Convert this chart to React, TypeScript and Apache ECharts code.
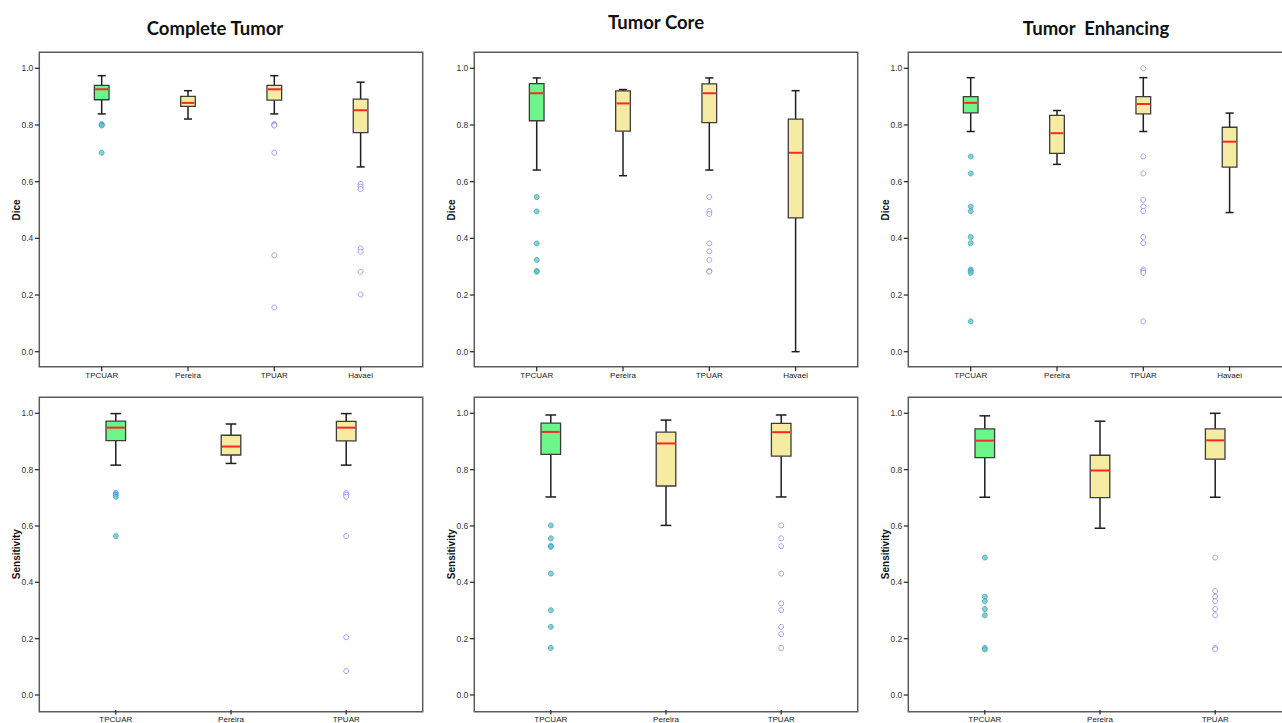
import React, { useEffect, useRef } from "react";
import * as echarts from "echarts";

// ---------- data ----------
const diceCategories = ["TPCUAR", "Pereira", "TPUAR", "Havaei"];
const sensCategories = ["TPCUAR", "Pereira", "TPUAR"];
const yTickValues = [0, 0.2, 0.4, 0.6, 0.8, 1.0];
const yTickLabels = ["0.0", "0.2", "0.4", "0.6", "0.8", "1.0"];

// box stats: [min whisker, Q1, median, Q3, max whisker]
const completeDiceBoxes = [
  [0.839, 0.889, 0.926, 0.94, 0.974],
  [0.821, 0.866, 0.878, 0.901, 0.921],
  [0.839, 0.888, 0.926, 0.94, 0.974],
  [0.652, 0.773, 0.852, 0.891, 0.951],
];
const completeDiceOutTPCUAR = [0.803, 0.8, 0.798, 0.702];
const completeDiceOutTPUAR = [0.803, 0.8, 0.798, 0.702, 0.34, 0.156];
const completeDiceOutHavaei = [0.592, 0.582, 0.574, 0.364, 0.353, 0.282, 0.202];

const coreDiceBoxes = [
  [0.641, 0.815, 0.912, 0.946, 0.966],
  [0.621, 0.778, 0.876, 0.92, 0.925],
  [0.641, 0.808, 0.912, 0.945, 0.966],
  [0.0, 0.472, 0.702, 0.821, 0.921],
];
const coreDiceOutTPCUAR = [0.546, 0.495, 0.382, 0.324, 0.285, 0.282];
const coreDiceOutTPUAR = [0.546, 0.496, 0.486, 0.382, 0.354, 0.324, 0.285, 0.282];

const enhDiceBoxes = [
  [0.777, 0.843, 0.878, 0.9, 0.967],
  [0.661, 0.7, 0.771, 0.834, 0.851],
  [0.777, 0.839, 0.874, 0.9, 0.967],
  [0.491, 0.651, 0.741, 0.792, 0.842],
];
const enhDiceOutTPCUAR = [0.689, 0.629, 0.512, 0.496, 0.405, 0.383, 0.29, 0.284, 0.278, 0.107];
const enhDiceOutTPUAR = [1.0, 0.689, 0.629, 0.536, 0.512, 0.496, 0.405, 0.383, 0.29, 0.284, 0.278, 0.107];

const completeSensBoxes = [
  [0.816, 0.903, 0.949, 0.972, 0.999],
  [0.822, 0.852, 0.882, 0.922, 0.962],
  [0.816, 0.902, 0.949, 0.971, 0.999],
];
const completeSensOutTPCUAR = [0.717, 0.711, 0.704, 0.564];
const completeSensOutTPUAR = [0.717, 0.711, 0.704, 0.564, 0.205, 0.085];

const coreSensBoxes = [
  [0.703, 0.854, 0.934, 0.965, 0.994],
  [0.602, 0.742, 0.893, 0.933, 0.976],
  [0.703, 0.848, 0.933, 0.964, 0.994],
];
const coreSensOutTPCUAR = [0.602, 0.556, 0.529, 0.526, 0.431, 0.301, 0.242, 0.167];
const coreSensOutTPUAR = [0.602, 0.556, 0.528, 0.431, 0.325, 0.301, 0.242, 0.216, 0.167];

const enhSensBoxes = [
  [0.702, 0.843, 0.903, 0.945, 0.991],
  [0.592, 0.701, 0.797, 0.851, 0.972],
  [0.702, 0.837, 0.904, 0.945, 1.0],
];
const enhSensOutTPCUAR = [0.488, 0.349, 0.333, 0.305, 0.283, 0.167, 0.162];
const enhSensOutTPUAR = [0.488, 0.369, 0.349, 0.333, 0.305, 0.283, 0.167, 0.162];

const titles = ["Complete Tumor", "Tumor Core", "Tumor  Enhancing"];

// ---------- layout ----------
const PANEL_LEFTS = [39.3, 474.3, 908.3];
const PANEL_W = 383.4;
const GRID_TOPS = [68.3, 413.3];
const GRID_H = 283.4;
const FRAME_ABOVE = 16;
const FRAME_BELOW = 15;
const ROW_SPACING = [86.3, 115.2];
const ROW_MARGIN = [62.4, 76.5];
const TITLE_POS = [
  [215, 28],
  [656, 22],
  [1096, 28],
];
const TICK_LEN = 4.5;

const GREEN = "#6ef58a";
const YELLOW = "#f6eba2";
const FRAME_COLOR = "#5c5c5c";
const TICK_COLOR = "#333333";

type Panel = {
  row: number;
  col: number;
  cats: string[];
  name: string;
  boxes: number[][];
  filled: number[];
  open: [number, number[]][];
};

const panels: Panel[] = [
  { row: 0, col: 0, cats: diceCategories, name: "Dice", boxes: completeDiceBoxes, filled: completeDiceOutTPCUAR, open: [[2, completeDiceOutTPUAR], [3, completeDiceOutHavaei]] },
  { row: 0, col: 1, cats: diceCategories, name: "Dice", boxes: coreDiceBoxes, filled: coreDiceOutTPCUAR, open: [[2, coreDiceOutTPUAR]] },
  { row: 0, col: 2, cats: diceCategories, name: "Dice", boxes: enhDiceBoxes, filled: enhDiceOutTPCUAR, open: [[2, enhDiceOutTPUAR]] },
  { row: 1, col: 0, cats: sensCategories, name: "Sensitivity", boxes: completeSensBoxes, filled: completeSensOutTPCUAR, open: [[2, completeSensOutTPUAR]] },
  { row: 1, col: 1, cats: sensCategories, name: "Sensitivity", boxes: coreSensBoxes, filled: coreSensOutTPCUAR, open: [[2, coreSensOutTPUAR]] },
  { row: 1, col: 2, cats: sensCategories, name: "Sensitivity", boxes: enhSensBoxes, filled: enhSensOutTPCUAR, open: [[2, enhSensOutTPUAR]] },
];

function renderBox(params: any, api: any) {
  const x = api.value(0);
  const lo = api.coord([x, api.value(1)]);
  const q1 = api.coord([x, api.value(2)]);
  const med = api.coord([x, api.value(3)]);
  const q3 = api.coord([x, api.value(4)]);
  const hi = api.coord([x, api.value(5)]);
  const band = api.size([1, 0])[0];
  const bw = band * 0.17;
  const cap = bw * 0.55;
  const cx = lo[0];
  const fill = params.dataIndex === 0 ? GREEN : YELLOW;
  const wStyle = { stroke: "#1e1e1e", lineWidth: 1.5 };
  return {
    type: "group",
    children: [
      { type: "line", shape: { x1: cx, y1: q1[1], x2: cx, y2: lo[1] }, style: wStyle },
      { type: "line", shape: { x1: cx, y1: q3[1], x2: cx, y2: hi[1] }, style: wStyle },
      { type: "line", shape: { x1: cx - cap / 2, y1: lo[1], x2: cx + cap / 2, y2: lo[1] }, style: wStyle },
      { type: "line", shape: { x1: cx - cap / 2, y1: hi[1], x2: cx + cap / 2, y2: hi[1] }, style: wStyle },
      {
        type: "rect",
        shape: { x: cx - bw / 2, y: q3[1], width: bw, height: q1[1] - q3[1] },
        style: { fill, stroke: "#3c3c3c", lineWidth: 1.3 },
      },
      {
        type: "line",
        shape: { x1: cx - bw / 2 + 0.8, y1: med[1], x2: cx + bw / 2 - 0.8, y2: med[1] },
        style: { stroke: "#ff2626", lineWidth: 2 },
      },
    ],
  };
}

function buildOption() {
  const grid: any[] = [];
  const xAxis: any[] = [];
  const yAxis: any[] = [];
  const series: any[] = [];
  const graphic: any[] = [];

  panels.forEach((p, i) => {
    const L = PANEL_LEFTS[p.col];
    const s = ROW_SPACING[p.row];
    const m = ROW_MARGIN[p.row];
    const n = p.cats.length;
    const yOffset = m - s / 2;
    const gridLeft = L + yOffset;
    const top = GRID_TOPS[p.row];
    grid.push({ left: gridLeft, top, width: n * s, height: GRID_H });
    xAxis.push({
      type: "category",
      gridIndex: i,
      data: p.cats,
      offset: FRAME_BELOW,
      axisLine: { show: false, onZero: false },
      axisTick: { show: false },
      axisLabel: { fontSize: 8, margin: 5, color: "#222", fontFamily: "Liberation Sans, Arial, sans-serif" },
      splitLine: { show: false },
    });
    yAxis.push({
      type: "value",
      gridIndex: i,
      min: 0,
      max: 1,
      interval: 0.2,
      offset: yOffset,
      name: p.name,
      nameLocation: "middle",
      nameGap: 18,
      nameMoveOverlap: false,
      nameTextStyle: { fontSize: 10, fontWeight: "bold", color: "#111", fontFamily: "Liberation Sans, Arial, sans-serif" },
      axisLine: { show: false, onZero: false },
      axisTick: { show: false },
      axisLabel: {
        fontSize: 8.5,
        margin: 6,
        color: "#333",
        fontFamily: "Liberation Sans, Arial, sans-serif",
        formatter: (v: number) => yTickLabels[Math.round(v * 5)] ?? "",
      },
      splitLine: { show: false },
    });

    // tick marks on the frame edges, placed through the axes' scales
    series.push({
      type: "custom",
      xAxisIndex: i,
      yAxisIndex: i,
      clip: false,
      silent: true,
      data: p.cats.map((_, idx) => [idx, 0]),
      renderItem: (params: any, api: any) => {
        const pt = api.coord([api.value(0), api.value(1)]);
        const y = pt[1] + FRAME_BELOW;
        return {
          type: "line",
          shape: { x1: pt[0], y1: y, x2: pt[0], y2: y + TICK_LEN },
          style: { stroke: TICK_COLOR, lineWidth: 1.3 },
        };
      },
    });
    series.push({
      type: "custom",
      xAxisIndex: i,
      yAxisIndex: i,
      clip: false,
      silent: true,
      data: yTickValues.map((v) => [0, v]),
      renderItem: (params: any, api: any) => {
        const pt = api.coord([api.value(0), api.value(1)]);
        const x = params.coordSys.x - yOffset;
        return {
          type: "line",
          shape: { x1: x - TICK_LEN, y1: pt[1], x2: x, y2: pt[1] },
          style: { stroke: TICK_COLOR, lineWidth: 1.3 },
        };
      },
    });

    series.push({
      type: "custom",
      xAxisIndex: i,
      yAxisIndex: i,
      renderItem: renderBox,
      data: p.boxes.map((b, idx) => [idx, ...b]),
      z: 2,
    });
    series.push({
      type: "scatter",
      xAxisIndex: i,
      yAxisIndex: i,
      symbol: "circle",
      symbolSize: 5,
      itemStyle: { color: "#5ecfa6", borderColor: "#4f97e2", borderWidth: 1 },
      data: p.filled.map((v) => [0, v]),
      z: 3,
    });
    series.push({
      type: "scatter",
      xAxisIndex: i,
      yAxisIndex: i,
      symbol: "circle",
      symbolSize: 5,
      itemStyle: { color: "#ffffff", borderColor: "#8e85ea", borderWidth: 1 },
      data: p.open.flatMap(([ci, vals]) => vals.map((v) => [ci, v])),
      z: 3,
    });
    graphic.push({
      type: "rect",
      silent: true,
      shape: { x: L, y: top - FRAME_ABOVE, width: PANEL_W, height: GRID_H + FRAME_ABOVE + FRAME_BELOW },
      style: { fill: "none", stroke: FRAME_COLOR, lineWidth: 1.5 },
      z: 1,
    });
  });

  titles.forEach((t, i) => {
    graphic.push({
      type: "text",
      x: TITLE_POS[i][0],
      y: TITLE_POS[i][1],
      style: {
        text: t,
        font: "bold 18.5px Lato, 'Open Sans', sans-serif",
        fill: "#111",
        textAlign: "center",
        textVerticalAlign: "middle",
        align: "center",
        verticalAlign: "middle",
      },
    });
  });

  return {
    animation: false,
    backgroundColor: "#ffffff",
    grid,
    xAxis,
    yAxis,
    series,
    graphic,
  };
}

export default function App() {
  const ref = useRef<HTMLDivElement>(null);
  useEffect(() => {
    if (!ref.current) return;
    const chart = echarts.init(ref.current, null, { renderer: "svg" });
    chart.setOption(buildOption() as any);
    return () => chart.dispose();
  }, []);
  return (
    <div
      ref={ref}
      style={{ position: "fixed", left: 0, top: 0, width: 1282, height: 723, background: "#fff" }}
    />
  );
}
